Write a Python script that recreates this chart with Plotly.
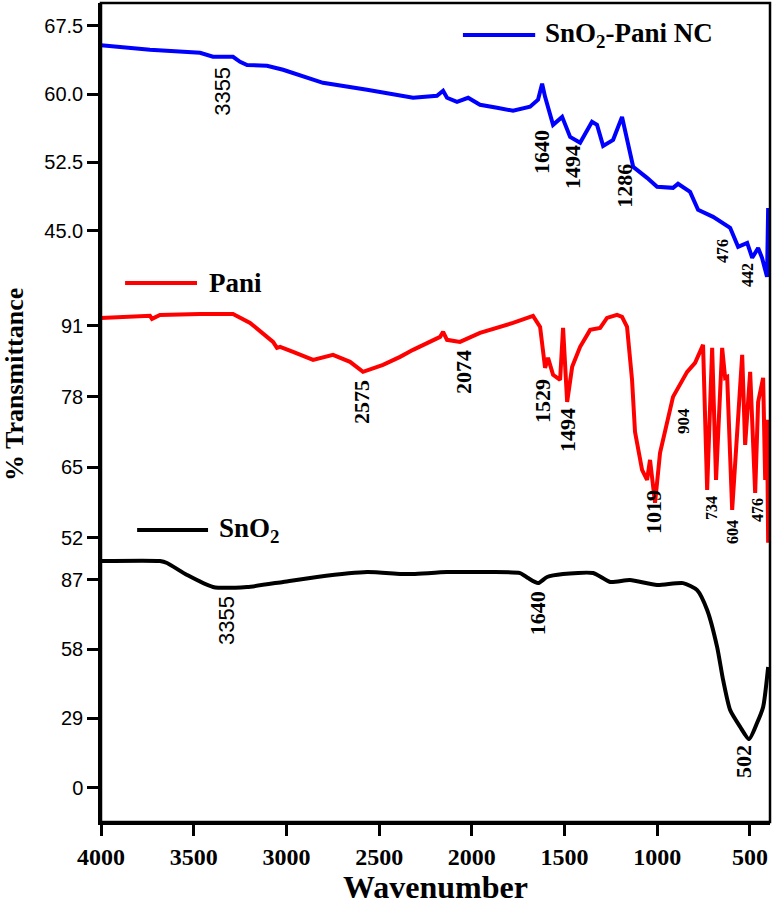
import plotly.graph_objects as go

# ---------------- data ----------------
nc_wn = [4000, 3736, 3466, 3396, 3288, 3250, 3212, 3105, 3018, 2889, 2803, 2565, 2387, 2317,
         2188, 2155, 2134, 2080, 2020, 1956, 1864, 1778, 1686, 1643, 1621, 1605, 1562, 1513,
         1470, 1416, 1352, 1325, 1292, 1238, 1190, 1163, 1130, 1055, 1001, 915, 888, 823,
         780, 699, 607, 564, 515, 488, 456, 435, 408, 402]
nc_t = [65.36, 64.86, 64.54, 64.1, 64.1, 63.55, 63.2, 63.1, 62.67, 61.79, 61.24, 60.47, 59.81, 59.6,
        59.81, 60.36, 59.6, 59.16, 59.6, 58.83, 58.5, 58.17, 58.61, 59.38, 61.13, 59.7, 56.63, 57.5,
        55.3, 54.65, 56.96, 56.63, 54.32, 54.98, 57.5, 54.98, 52.02, 50.81, 49.82, 49.71, 50.15, 49.27,
        47.3, 46.53, 45.32, 43.23, 43.67, 42.03, 43.1, 42.03, 39.94, 47.5]

pani_wn = [4000, 3871, 3736, 3725, 3682, 3466, 3288, 3196, 3105, 3072, 3051, 3034, 2964, 2856,
           2749, 2657, 2587, 2479, 2387, 2317, 2171, 2155, 2134, 2064, 1956, 1864, 1778, 1670,
           1632, 1605, 1589, 1562, 1524, 1508, 1486, 1459, 1416, 1362, 1308, 1271, 1217, 1190,
           1163, 1136, 1120, 1082, 1055, 1039, 1012, 985, 915, 839, 796, 753, 731, 704, 683,
           650, 634, 623, 596, 542, 526, 499, 472, 456, 429, 418, 408, 402]
pani_t = [92.47, 92.65, 92.84, 92.29, 93.0, 93.2, 93.2, 91.55, 88.98, 88.06, 86.95, 87.14, 86.2, 84.75,
          85.67, 84.38, 82.54, 83.83, 85.3, 86.59, 88.98, 89.9, 88.43, 88.06, 89.71, 90.63, 91.55, 92.84,
          90.82, 83.28, 85.12, 81.99, 81.07, 90.63, 77.02, 83.46, 87.14, 90.26, 90.63, 92.47, 93.02, 92.66,
          90.82, 81.07, 71.51, 64.52, 62.68, 66.36, 58.45, 67.64, 77.94, 82.54, 84.2, 87.5, 60.84, 86.95, 62.68,
          86.95, 81.44, 81.62, 57.16, 85.67, 69.12, 82.54, 60.29, 77.02, 81.44, 62.68, 73.71, 51.1]

sno2_wn = [4000, 3682, 3644, 3536, 3396, 3212, 3018, 2835, 2565, 2387, 2317, 2134, 1956, 1740,
           1697, 1643, 1594, 1508, 1346, 1254, 1147, 1001, 861, 785, 731, 677, 645, 607, 553,
           505, 462, 429, 402]
sno2_t = [94.7, 94.7, 93.9, 88.9, 83.9, 83.9, 86.0, 88.05, 90.1, 89.3, 89.3, 90.1, 90.1, 89.7,
          87.6, 85.5, 88.05, 89.3, 89.7, 86.0, 86.8, 84.7, 85.5, 82.6, 74.3, 58.8, 45.1, 32.5, 25.5,
          20.4, 27.1, 33.8, 50.5]

x_ticks = [4000, 3500, 3000, 2500, 2000, 1500, 1000, 500]
nc_ticks = [45.0, 52.5, 60.0, 67.5]
pani_ticks = [52, 65, 78, 91]
sno2_ticks = [0, 29, 58, 87]

# peak labels: (text, wavenumber, value, font size, family)
nc_labels = [("3355", 3342, 60.25, 22, "sans"), ("1640", 1621, 53.66, 22, "serif"),
             ("1494", 1454, 52.02, 22, "serif"), ("1286", 1174, 49.93, 22, "serif"),
             ("476", 645, 42.8, 16, "serif"), ("442", 510, 40.16, 16, "serif")]
pani_labels = [("2575", 2592, 77.02, 22, "serif"), ("2074", 2042, 82.54, 22, "serif"),
               ("1529", 1616, 77.2, 22, "serif"), ("1494", 1481, 71.87, 22, "serif"),
               ("1019", 1017, 56.8, 22, "serif"), ("904", 861, 73.5, 17, "serif"),
               ("734", 710, 57.5, 16, "serif"), ("604", 591, 53.1, 16, "serif"),
               ("476", 461, 57.2, 16, "serif")]
sno2_labels = [("3355", 3326, 70.1, 22, "sans"), ("1640", 1648, 73.0, 22, "serif"),
               ("502", 532, 10.85, 22, "serif")]

# ---------------- figure ----------------
SERIF = "Liberation Serif, Times New Roman, serif"
SANS = "Liberation Sans, Arial, sans-serif"
LW = 4

fig = go.Figure()
fig.add_trace(go.Scatter(x=nc_wn, y=nc_t, mode="lines", line=dict(color="#0000FF", width=LW),
                         xaxis="x", yaxis="y", showlegend=False))
fig.add_trace(go.Scatter(x=pani_wn, y=pani_t, mode="lines", line=dict(color="#FF0000", width=LW),
                         xaxis="x", yaxis="y2", showlegend=False))
fig.add_trace(go.Scatter(x=sno2_wn, y=sno2_t, mode="lines",
                         line=dict(color="#000000", width=LW, shape="spline", smoothing=0.6),
                         xaxis="x", yaxis="y3", showlegend=False))

yax_common = dict(showgrid=False, zeroline=False, showline=True, linecolor="black", linewidth=2.5,
                  ticks="outside", ticklen=11, tickwidth=2.5, tickcolor="black",
                  tickfont=dict(family=SANS, size=20, color="black"), anchor="x")

annotations = []
for labels, yref in ((nc_labels, "y"), (pani_labels, "y2"), (sno2_labels, "y3")):
    for txt, wn, v, sz, fam in labels:
        is_serif = fam == "serif"
        annotations.append(dict(
            text=f"<b>{txt}</b>" if is_serif else txt,
            x=wn, y=v, xref="x", yref=yref, showarrow=False, textangle=-90,
            font=dict(family=SERIF if is_serif else SANS, size=sz, color="black"),
            xanchor="center", yanchor="middle"))

# legend-like labels
legend_items = [("#0000FF", 0.541, 0.649, 0.961, 0.661, "SnO<sub>2</sub>-Pani NC"),
                ("#FF0000", 0.036, 0.1435, 0.658, 0.158, "Pani"),
                ("#000000", 0.054, 0.160, 0.3565, 0.1734, "SnO<sub>2</sub>")]
shapes = []
for col, x0, x1, y, xt, txt in legend_items:
    shapes.append(dict(type="line", xref="paper", yref="paper", x0=x0, x1=x1, y0=y, y1=y,
                       line=dict(color=col, width=LW)))
    annotations.append(dict(text=f"<b>{txt}</b>", x=xt, y=y, xref="paper", yref="paper",
                            showarrow=False, xanchor="left", yanchor="middle",
                            font=dict(family=SERIF, size=27, color="black")))

# frame
shapes.append(dict(type="rect", xref="paper", yref="paper", x0=0, x1=1, y0=0, y1=1,
                   line=dict(color="black", width=2.5), layer="above"))

# axis titles
annotations.append(dict(text="<b>Wavenumber</b>", x=0.5, y=-0.079, xref="paper", yref="paper",
                        showarrow=False, xanchor="center", yanchor="middle",
                        font=dict(family=SERIF, size=32, color="black")))
annotations.append(dict(text="<b>% Transmittance</b>", x=-0.1285, y=0.5336, xref="paper", yref="paper",
                        showarrow=False, textangle=-90, xanchor="center", yanchor="middle",
                        font=dict(family=SERIF, size=26, color="black")))

fig.update_layout(
    width=774, height=904,
    margin=dict(l=101, r=4, t=3, b=82),
    paper_bgcolor="white", plot_bgcolor="white",
    xaxis=dict(range=[4000, 392], domain=[0, 1], anchor="y3", showgrid=False, zeroline=False,
               showline=True, linecolor="black", linewidth=2.5,
               ticks="outside", ticklen=11, tickwidth=2.5, tickcolor="black",
               tickvals=x_ticks, ticktext=[str(t) for t in x_ticks],
               tickfont=dict(family=SERIF, size=24, color="black", weight="bold")),
    yaxis=dict(domain=[0.6496, 1.0], range=[38.5, 70.0], tickvals=nc_ticks,
               ticktext=[f"{t:.1f}" for t in nc_ticks], **yax_common),
    yaxis2=dict(domain=[0.3382, 0.6496], range=[50.7, 97.6], tickvals=pani_ticks,
                ticktext=[str(t) for t in pani_ticks], **yax_common),
    yaxis3=dict(domain=[0.0, 0.3382], range=[-14.2, 101.4], tickvals=sno2_ticks,
                ticktext=[str(t) for t in sno2_ticks], **yax_common),
    annotations=annotations,
    shapes=shapes,
    showlegend=False,
)

fig.write_html("out.html")
